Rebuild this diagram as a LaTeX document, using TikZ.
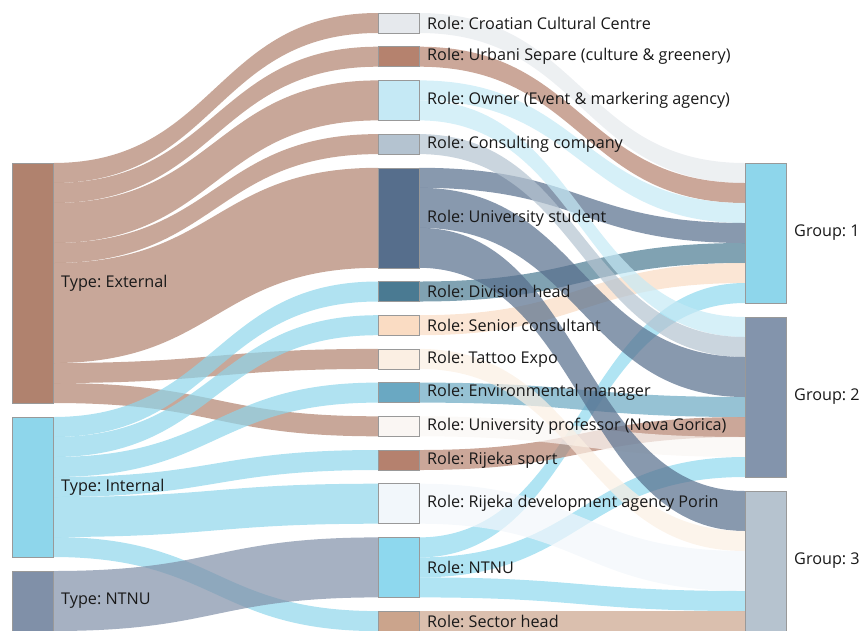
\documentclass[tikz,border=0pt]{standalone}
\usepackage{fontspec}
\setmainfont{Open Sans}
\usepackage{xcolor}
\usetikzlibrary{calc,positioning}
\frenchspacing

\pgfdeclarelayer{links}
\pgfsetlayers{links,main}

\definecolor{cExt}{HTML}{B0826E}
\definecolor{cInt}{HTML}{8ED6EB}
\definecolor{cNtT}{HTML}{8090A8}
\definecolor{cCroat}{HTML}{E6E9ED}
\definecolor{cUrb}{HTML}{B5826E}
\definecolor{cOwner}{HTML}{C5E9F5}
\definecolor{cCons}{HTML}{B4C3D0}
\definecolor{cStud}{HTML}{566E8C}
\definecolor{cDiv}{HTML}{4A7A92}
\definecolor{cSenior}{HTML}{FADCC3}
\definecolor{cTattoo}{HTML}{FBEFE3}
\definecolor{cEnv}{HTML}{6AA8C2}
\definecolor{cProf}{HTML}{FAF6F3}
\definecolor{cSport}{HTML}{B5816E}
\definecolor{cPorin}{HTML}{F2F7FB}
\definecolor{cNtR}{HTML}{8ED8EE}
\definecolor{cSector}{HTML}{CBA48C}
\definecolor{cGa}{HTML}{8ED6EB}
\definecolor{cGb}{HTML}{8394AC}
\definecolor{cGc}{HTML}{B6C3CF}

% source, offset, target, offset, size (in units), colour
\newcommand{\sflow}[6]{%
  \begin{pgfonlayer}{links}
  \fill[band, #6]
    ($(#1.north east)+(0,20*#2)$)
    .. controls +(163,0) and +(-163,0) .. ($(#3.north west)+(0,20*#4)$)
    -- ($(#3.north west)+(0,20*#4+20*#5)$)
    .. controls +(-163,0) and +(163,0) .. ($(#1.north east)+(0,20*#2+20*#5)$)
    -- cycle;
  \end{pgfonlayer}}

\begin{document}
\begin{tikzpicture}[
  x=1pt, y=-1pt,
  box/.style={draw=black!40, line width=0.6pt, anchor=north west,
              minimum width=41, inner sep=0, outer sep=0},
  lbl/.style={font=\fontsize{16.2}{19}\selectfont, text=black!90,
              inner sep=0, node distance=8pt},
  band/.style={fill opacity=0.7}
]
  \useasboundingbox (0,0) rectangle (861,630);

  \node[box, fill=cExt, minimum height=240] (ext) at (12,163) {};
  \node[box, fill=cInt, minimum height=140] (int) at (12,417) {};
  \node[box, fill=cNtT, minimum height=60] (ntt) at (12,571) {};

  \node[box, fill=cCroat, minimum height=20] (cc) at (378,13) {};
  \node[box, fill=cUrb, minimum height=20] (urb) at (378,46.7) {};
  \node[box, fill=cOwner, minimum height=40] (own) at (378,80.4) {};
  \node[box, fill=cCons, minimum height=20] (cons) at (378,134.1) {};
  \node[box, fill=cStud, minimum height=100] (stud) at (378,167.8) {};
  \node[box, fill=cDiv, minimum height=20] (div) at (378,281.5) {};
  \node[box, fill=cSenior, minimum height=20] (sen) at (378,315.2) {};
  \node[box, fill=cTattoo, minimum height=20] (tat) at (378,348.9) {};
  \node[box, fill=cEnv, minimum height=20] (env) at (378,382.6) {};
  \node[box, fill=cProf, minimum height=20] (prof) at (378,416.3) {};
  \node[box, fill=cSport, minimum height=20] (spo) at (378,450) {};
  \node[box, fill=cPorin, minimum height=40] (por) at (378,483.7) {};
  \node[box, fill=cNtR, minimum height=60] (ntr) at (378,537.4) {};
  \node[box, fill=cSector, minimum height=20] (sec) at (378,611.1) {};

  \node[box, fill=cGa, minimum height=140] (ga) at (745,163) {};
  \node[box, fill=cGb, minimum height=160] (gb) at (745,317) {};
  \node[box, fill=cGc, minimum height=140] (gc) at (745,491) {};

  \node[lbl, right=of ext] (ext-l) {Type: External};
  \node[lbl, right=of int] (int-l) {Type: Internal};
  \node[lbl, right=of ntt] (ntt-l) {Type: NTNU};
  \node[lbl, right=of cc] (cc-l) {Role: Croatian Cultural Centre};
  \node[lbl, right=of urb] (urb-l) {Role: Urbani Separe (culture \& greenery)};
  \node[lbl, right=of own] (own-l) {Role: Owner (Event \& markering agency)};
  \node[lbl, right=of cons] (cons-l) {Role: Consulting company};
  \node[lbl, right=of stud] (stud-l) {Role: University student};
  \node[lbl, right=of div] (div-l) {Role: Division head};
  \node[lbl, right=of sen] (sen-l) {Role: Senior consultant};
  \node[lbl, right=of tat] (tat-l) {Role: Tattoo Expo};
  \node[lbl, right=of env] (env-l) {Role: Environmental manager};
  \node[lbl, right=of prof] (prof-l) {Role: University professor (Nova Gorica)};
  \node[lbl, right=of spo] (spo-l) {Role: Rijeka sport};
  \node[lbl, right=of por] (por-l) {Role: Rijeka development agency Porin};
  \node[lbl, right=of ntr] (ntr-l) {Role: NTNU};
  \node[lbl, right=of sec] (sec-l) {Role: Sector head};
  \node[lbl, right=of ga] (ga-l) {Group: 1};
  \node[lbl, right=of gb] (gb-l) {Group: 2};
  \node[lbl, right=of gc] (gc-l) {Group: 3};

  \sflow{ext}{0}{cc}{0}{1}{cExt}
  \sflow{ext}{1}{urb}{0}{1}{cExt}
  \sflow{ext}{2}{own}{0}{2}{cExt}
  \sflow{ext}{4}{cons}{0}{1}{cExt}
  \sflow{ext}{5}{stud}{0}{5}{cExt}
  \sflow{ext}{10}{tat}{0}{1}{cExt}
  \sflow{ext}{11}{prof}{0}{1}{cExt}
  \sflow{int}{0}{div}{0}{1}{cInt}
  \sflow{int}{1}{sen}{0}{1}{cInt}
  \sflow{int}{2}{env}{0}{1}{cInt}
  \sflow{int}{3}{spo}{0}{1}{cInt}
  \sflow{int}{4}{por}{0}{2}{cInt}
  \sflow{int}{6}{sec}{0}{1}{cInt}
  \sflow{ntt}{0}{ntr}{0}{3}{cNtT}

  \sflow{cc}{0}{ga}{0}{1}{cCroat}
  \sflow{urb}{0}{ga}{1}{1}{cUrb}
  \sflow{own}{0}{ga}{2}{1}{cOwner}
  \sflow{stud}{0}{ga}{3}{1}{cStud}
  \sflow{div}{0}{ga}{4}{1}{cDiv}
  \sflow{sen}{0}{ga}{5}{1}{cSenior}
  \sflow{ntr}{0}{ga}{6}{1}{cNtR}
  \sflow{own}{1}{gb}{0}{1}{cOwner}
  \sflow{cons}{0}{gb}{1}{1}{cCons}
  \sflow{stud}{1}{gb}{2}{2}{cStud}
  \sflow{env}{0}{gb}{4}{1}{cEnv}
  \sflow{spo}{0}{gb}{5}{1}{cSport}
  \sflow{prof}{0}{gb}{6}{1}{cProf}
  \sflow{ntr}{1}{gb}{7}{1}{cNtR}
  \sflow{stud}{3}{gc}{0}{2}{cStud}
  \sflow{tat}{0}{gc}{2}{1}{cTattoo}
  \sflow{por}{0}{gc}{3}{2}{cPorin}
  \sflow{ntr}{2}{gc}{5}{1}{cNtR}
  \sflow{sec}{0}{gc}{6}{1}{cSector}
\end{tikzpicture}
\end{document}
